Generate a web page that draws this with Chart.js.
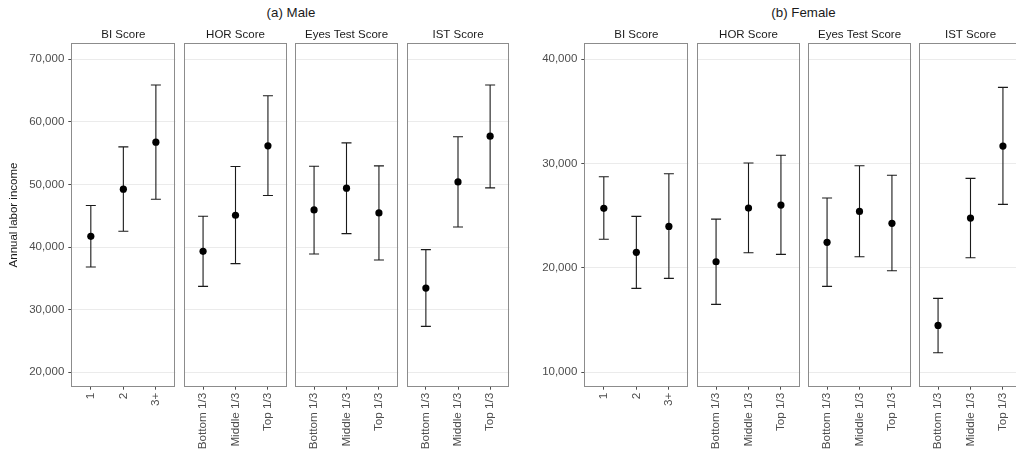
<!DOCTYPE html>
<html>
<head>
<meta charset="utf-8">
<script src="https://cdn.jsdelivr.net/npm/chart.js@4"></script>
<style>
  body { margin: 0; width: 1016px; height: 454px; overflow: hidden; background: #fff; position: relative;
         font-family: "Liberation Sans", Arial, sans-serif; }
  canvas { position: absolute; top: 0; }
  .ttl { position: absolute; top: 5px; font-size: 13.3px; line-height: 16px; color: #1a1a1a;
         transform: translateX(-50%); white-space: nowrap; }
</style>
</head>
<body>
<div class="ttl" style="left:291px">(a) Male</div>
<div class="ttl" style="left:803.5px">(b) Female</div>
<script>
// facet names + x categories
const scoreNames = ['BI Score', 'HOR Score', 'Eyes Test Score', 'IST Score'];
const biLabels = ['1', '2', '3+'];
const tercileLabels = ['Bottom 1/3', 'Middle 1/3', 'Top 1/3'];

// y ticks / limits
const maleTicks = [20000, 30000, 40000, 50000, 60000, 70000];
const maleRange = [17700, 72560];
const femaleTicks = [10000, 20000, 30000, 40000];
const femaleRange = [8590, 41536];

// (a) Male  - mean, lower, upper
const maleBIMean = [41730, 49250, 56770];
const maleBILow = [36820, 42530, 47650];
const maleBIHigh = [46640, 56020, 65890];
const maleHORMean = [39330, 45090, 56180];
const maleHORLow = [33730, 37360, 48240];
const maleHORHigh = [44930, 52880, 64180];
const maleEyesMean = [45940, 49410, 45460];
const maleEyesLow = [38900, 42160, 37940];
const maleEyesHigh = [52930, 56660, 52980];
const maleISTMean = [33460, 50420, 57730];
const maleISTLow = [27330, 43220, 49460];
const maleISTHigh = [39600, 57620, 65890];

// (b) Female
const femaleBIMean = [25700, 21480, 23970];
const femaleBILow = [22730, 18020, 18980];
const femaleBIHigh = [28730, 24930, 29020];
const femaleHORMean = [20580, 25730, 26020];
const femaleHORLow = [16490, 21440, 21290];
const femaleHORHigh = [24670, 30050, 30790];
const femaleEyesMean = [22440, 25410, 24260];
const femaleEyesLow = [18220, 21060, 19710];
const femaleEyesHigh = [26690, 29790, 28870];
const femaleISTMean = [14470, 24770, 31680];
const femaleISTLow = [11840, 20960, 26080];
const femaleISTHigh = [17060, 28580, 37310];

const H = 454, PANEL_TOP = 43.3, PANEL_BOTTOM = 386.7;
const FONT = 'Liberation Sans';

// error bars, panel border, strip label
const panelPlugin = {
  id: 'panel',
  beforeDatasetsDraw(chart, args, opts) {
    const ctx = chart.ctx, xs = chart.scales.x, ys = chart.scales.y;
    ctx.save();
    ctx.strokeStyle = '#1a1a1a';
    ctx.lineWidth = 1.1;
    for (let i = 0; i < opts.low.length; i++) {
      const x = xs.getPixelForValue(i);
      const yl = ys.getPixelForValue(opts.low[i]);
      const yh = ys.getPixelForValue(opts.high[i]);
      ctx.beginPath();
      ctx.moveTo(x, yl); ctx.lineTo(x, yh);
      ctx.moveTo(x - 5, yl); ctx.lineTo(x + 5, yl);
      ctx.moveTo(x - 5, yh); ctx.lineTo(x + 5, yh);
      ctx.stroke();
    }
    ctx.restore();
  },
  afterDraw(chart, args, opts) {
    const ctx = chart.ctx, ca = chart.chartArea;
    ctx.save();
    ctx.strokeStyle = '#8c8c8c';
    ctx.lineWidth = 1;
    const l = Math.round(ca.left), t = Math.round(ca.top), r = Math.round(ca.right), b = Math.round(ca.bottom);
    ctx.strokeRect(l + 0.5, t + 0.5, r - l - 1, b - t - 1);
    ctx.fillStyle = '#1a1a1a';
    ctx.font = '11.5px "' + FONT + '"';
    ctx.textAlign = 'center';
    ctx.textBaseline = 'middle';
    ctx.fillText(opts.strip, (ca.left + ca.right) / 2, 34.5);
    ctx.restore();
  }
};

function makePanel(idx, groupLeft, canvasLeft0, step, pw, cats, ticks, range, mean, low, high, yTitle) {
  const first = idx === 0;
  const left = groupLeft + idx * step, right = left + pw;
  const cLeft = first ? canvasLeft0 : Math.floor(left) - 2;
  const cWidth = Math.ceil(right) + 2 - cLeft;
  const cv = document.createElement('canvas');
  cv.width = cWidth; cv.height = H;
  cv.style.left = cLeft + 'px';
  document.body.appendChild(cv);

  new Chart(cv, {
    type: 'scatter',
    data: {
      datasets: [{
        data: mean.map((v, i) => ({ x: i, y: v })),
        pointRadius: 3.6, pointHoverRadius: 3.6,
        backgroundColor: '#000', borderColor: '#000', borderWidth: 0
      }]
    },
    options: {
      responsive: false,
      animation: false,
      layout: { padding: { top: PANEL_TOP, bottom: 0, left: first ? 0 : left - cLeft, right: cWidth - (right - cLeft) } },
      plugins: {
        legend: { display: false },
        tooltip: { enabled: false },
        panel: { strip: scoreNames[idx], low: low, high: high }
      },
      scales: {
        x: {
          type: 'linear', min: -0.6, max: 2.6,
          afterBuildTicks: s => { s.ticks = [0, 1, 2].map(v => ({ value: v })); },
          afterFit: s => { s.height = H - PANEL_BOTTOM; },
          grid: { drawOnChartArea: false, drawTicks: true, tickLength: 3, tickColor: '#4d4d4d' },
          border: { display: false },
          ticks: { callback: v => cats[v], minRotation: 90, maxRotation: 90, autoSkip: false,
                   padding: 3, color: '#4d4d4d', font: { family: FONT, size: 11.7 } }
        },
        y: {
          min: range[0], max: range[1],
          afterBuildTicks: s => { s.ticks = ticks.map(v => ({ value: v })); },
          afterFit: s => { s.width = first ? left - cLeft : 0; },
          grid: { color: '#ebebeb', lineWidth: 1, drawTicks: first, tickLength: 3, tickColor: '#4d4d4d' },
          border: { display: false },
          ticks: { display: first, padding: 4, color: '#4d4d4d', font: { family: FONT, size: 11.5 },
                   callback: v => v.toLocaleString('en-US') },
          title: { display: first && !!yTitle, text: yTitle, color: '#1a1a1a',
                   font: { family: FONT, size: 11.5 }, padding: { top: 7, bottom: 0 } }
        }
      }
    },
    plugins: [panelPlugin]
  });
}

const maleSets = [
  [biLabels, maleBIMean, maleBILow, maleBIHigh],
  [tercileLabels, maleHORMean, maleHORLow, maleHORHigh],
  [tercileLabels, maleEyesMean, maleEyesLow, maleEyesHigh],
  [tercileLabels, maleISTMean, maleISTLow, maleISTHigh]
];
const femaleSets = [
  [biLabels, femaleBIMean, femaleBILow, femaleBIHigh],
  [tercileLabels, femaleHORMean, femaleHORLow, femaleHORHigh],
  [tercileLabels, femaleEyesMean, femaleEyesLow, femaleEyesHigh],
  [tercileLabels, femaleISTMean, femaleISTLow, femaleISTHigh]
];

maleSets.forEach((s, i) => makePanel(i, 71.3, 0, 111.3, 105.7, s[0], maleTicks, maleRange, s[1], s[2], s[3], 'Annual labor income'));
femaleSets.forEach((s, i) => makePanel(i, 584.3, 520, 111.1, 105.7, s[0], femaleTicks, femaleRange, s[1], s[2], s[3], ''));
</script>
</body>
</html>
